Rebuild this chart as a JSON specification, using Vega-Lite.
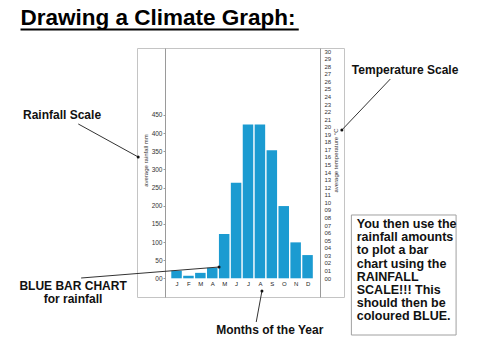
{
  "$schema": "https://vega.github.io/schema/vega-lite/v6.json",
  "width": 207,
  "height": 249,
  "autosize": {"type": "none"},
  "padding": {"left": 137, "top": 48, "right": 136, "bottom": 63},
  "background": "white",
  "config": {
    "font": "Liberation Sans",
    "view": {"stroke": "#c4c4c4", "strokeWidth": 1},
    "axis": {"grid": false}
  },
  "datasets": {
    "rain": [
      {"month": 1, "rain": 21},
      {"month": 2, "rain": 7},
      {"month": 3, "rain": 15},
      {"month": 4, "rain": 29},
      {"month": 5, "rain": 122},
      {"month": 6, "rain": 263},
      {"month": 7, "rain": 424},
      {"month": 8, "rain": 424},
      {"month": 9, "rain": 353},
      {"month": 10, "rain": 199},
      {"month": 11, "rain": 99},
      {"month": 12, "rain": 64}
    ],
    "arrows": [
      {"name": "rainfall scale", "x": -7.25, "y": 425.1, "x2": -2.22, "y2": 334.2},
      {"name": "temperature scale", "x": 18.95, "y": 549.0, "x2": 14.88, "y2": 408.5},
      {"name": "bar chart", "x": -7.01, "y": 0.8, "x2": 4.57, "y2": 31.1},
      {"name": "months", "x": 7.69, "y": -120.4, "x2": 8.17, "y2": -35.0}
    ]
  },
  "layer": [
    {
      "data": {"values": [{"x": 15.68, "x2": 24.47, "y": 174.4, "y2": -156.2}]},
      "mark": {"type": "rect", "fill": "white", "stroke": "#a0a0a0", "strokeWidth": 1},
      "encoding": {
        "x": {"field": "x", "type": "quantitative", "scale": {"domain": [-1.9, 14.64], "nice": false, "zero": false}, "axis": null},
        "x2": {"field": "x2"},
        "y": {"field": "y", "type": "quantitative", "scale": {"domain": [-51.5, 634.4], "nice": false, "zero": false}, "axis": null},
        "y2": {"field": "y2"}
      }
    },
    {
      "data": {"name": "rain"},
      "mark": {"type": "bar", "size": 10.5, "color": "#1b9bd1"},
      "encoding": {
        "x": {
          "field": "month", "type": "quantitative",
          "scale": {"domain": [-1.9, 14.64], "nice": false, "zero": false},
          "axis": {
            "values": [1, 2, 3, 4, 5, 6, 7, 8, 9, 10, 11, 12],
            "labelExpr": "substring('JFMAMJJASOND', datum.value - 1, datum.value)",
            "offset": -19, "domain": false, "ticks": false, "labelPadding": 2,
            "labelFontSize": 6, "labelColor": "#222", "labelOverlap": false, "labelFlush": false, "title": null
          }
        },
        "y": {
          "field": "rain", "type": "quantitative",
          "scale": {"domain": [-51.5, 634.4], "nice": false, "zero": false},
          "axis": {
            "values": [0, 50, 100, 150, 200, 250, 300, 350, 400, 450],
            "labelExpr": "datum.value == 0 ? '00' : datum.label",
            "offset": -28, "domainColor": "#9a9a9a", "tickSize": 2, "tickColor": "#9a9a9a",
            "labelPadding": 1, "labelFontSize": 6.5, "labelColor": "#333", "labelOverlap": false,
            "title": "average rainfall mm", "titleFontSize": 6, "titleFontWeight": "normal",
            "titleColor": "#333", "titlePadding": 3, "titleY": 112
          }
        }
      }
    },
    {
      "data": {"values": [{"x": -12.1, "x2": 11.26, "y": 685.4}]},
      "mark": {"type": "rule", "color": "black", "strokeWidth": 2},
      "encoding": {
        "x": {"field": "x", "type": "quantitative", "scale": {"domain": [-1.9, 14.64], "nice": false, "zero": false}, "axis": null},
        "x2": {"field": "x2"},
        "y": {"field": "y", "type": "quantitative", "scale": {"domain": [-51.5, 634.4], "nice": false, "zero": false}, "axis": null}
      }
    },
    {
      "data": {"name": "arrows"},
      "mark": {"type": "rule", "color": "#333", "strokeWidth": 1},
      "encoding": {
        "x": {"field": "x", "type": "quantitative", "scale": {"domain": [-1.9, 14.64], "nice": false, "zero": false}, "axis": null},
        "x2": {"field": "x2"},
        "y": {"field": "y", "type": "quantitative", "scale": {"domain": [-51.5, 634.4], "nice": false, "zero": false}, "axis": null},
        "y2": {"field": "y2"}
      }
    },
    {
      "data": {"name": "arrows"},
      "mark": {"type": "point", "filled": true, "color": "#111", "size": 9, "opacity": 1},
      "encoding": {
        "x": {"field": "x2", "type": "quantitative", "scale": {"domain": [-1.9, 14.64], "nice": false, "zero": false}, "axis": null},
        "y": {"field": "y2", "type": "quantitative", "scale": {"domain": [-51.5, 634.4], "nice": false, "zero": false}, "axis": null}
      }
    },
    {
      "data": {"values": [{"text": "Drawing a Climate Graph:", "x": -12.1, "y": 697.8}]},
      "mark": {"type": "text", "align": "left", "baseline": "alphabetic", "fontSize": 22.5, "fontWeight": "bold", "color": "black"},
      "encoding": {
        "x": {"field": "x", "type": "quantitative", "scale": {"domain": [-1.9, 14.64], "nice": false, "zero": false}, "axis": null},
        "y": {"field": "y", "type": "quantitative", "scale": {"domain": [-51.5, 634.4], "nice": false, "zero": false}, "axis": null},
        "text": {"field": "text"}
      }
    },
    {
      "data": {"values": [
        {"text": "Rainfall Scale", "x": -11.89, "y": 437.5},
        {"text": "Temperature Scale", "x": 15.72, "y": 562.8},
        {"text": "Months of the Year", "x": 4.33, "y": -152.1}
      ]},
      "mark": {"type": "text", "align": "left", "baseline": "alphabetic", "fontSize": 12, "fontWeight": "bold", "color": "#111"},
      "encoding": {
        "x": {"field": "x", "type": "quantitative", "scale": {"domain": [-1.9, 14.64], "nice": false, "zero": false}, "axis": null},
        "y": {"field": "y", "type": "quantitative", "scale": {"domain": [-51.5, 634.4], "nice": false, "zero": false}, "axis": null},
        "text": {"field": "text"}
      }
    },
    {
      "data": {"values": [{"text": "BLUE BAR CHART\nfor rainfall", "x": -7.69, "y": -32.2}]},
      "mark": {"type": "text", "align": "center", "baseline": "alphabetic", "fontSize": 12, "fontWeight": "bold", "color": "#111", "lineBreak": "\n", "lineHeight": 13},
      "encoding": {
        "x": {"field": "x", "type": "quantitative", "scale": {"domain": [-1.9, 14.64], "nice": false, "zero": false}, "axis": null},
        "y": {"field": "y", "type": "quantitative", "scale": {"domain": [-51.5, 634.4], "nice": false, "zero": false}, "axis": null},
        "text": {"field": "text"}
      }
    },
    {
      "data": {"values": [{"text": "You then use the\nrainfall amounts\nto plot a bar\nchart using the\nRAINFALL\nSCALE!!! This\nshould then be\ncoloured BLUE.", "x": 16.13, "y": 138.6}]},
      "mark": {"type": "text", "align": "left", "baseline": "alphabetic", "fontSize": 12.5, "fontWeight": "bold", "color": "#111", "lineBreak": "\n", "lineHeight": 13.2},
      "encoding": {
        "x": {"field": "x", "type": "quantitative", "scale": {"domain": [-1.9, 14.64], "nice": false, "zero": false}, "axis": null},
        "y": {"field": "y", "type": "quantitative", "scale": {"domain": [-51.5, 634.4], "nice": false, "zero": false}, "axis": null},
        "text": {"field": "text"}
      }
    },
    {
      "data": {"values": [{"t": 0}, {"t": 30}]},
      "mark": {"type": "point", "opacity": 0},
      "encoding": {
        "y": {
          "field": "t", "type": "quantitative",
          "scale": {"domain": [-2.5, 30.4], "nice": false, "zero": false},
          "axis": {
            "orient": "right", "offset": -24,
            "values": [0, 1, 2, 3, 4, 5, 6, 7, 8, 9, 10, 11, 12, 13, 14, 15, 16, 17, 18, 19, 20, 21, 22, 23, 24, 25, 26, 27, 28, 29, 30],
            "format": "02d", "ticks": false, "labelPadding": 4, "labelFontSize": 6, "labelColor": "#333",
            "labelOverlap": false, "domainColor": "#9a9a9a",
            "title": "average temperature °C", "titleAngle": -90, "titleFontSize": 6, "titleFontWeight": "normal",
            "titleColor": "#333", "titlePadding": 8, "titleY": 112
          }
        }
      }
    }
  ],
  "resolve": {"scale": {"y": "independent"}, "axis": {"x": "independent"}}
}
